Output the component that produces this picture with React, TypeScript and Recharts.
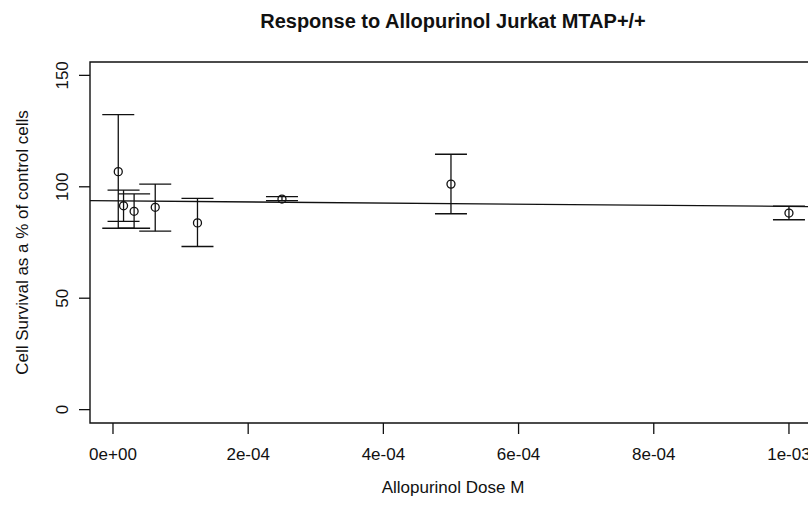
import React from "react";
import {
  ScatterChart,
  Scatter,
  XAxis,
  YAxis,
  ErrorBar,
  ReferenceLine,
  ReferenceArea,
} from "recharts";

// Allopurinol dose (M) and cell survival (% of control)
const doses = [7.8125e-6, 1.5625e-5, 3.125e-5, 6.25e-5, 1.25e-4, 2.5e-4, 5e-4, 1e-3];
const survival = [106.8, 91.5, 89.0, 90.8, 83.8, 94.5, 101.2, 88.2];
const lowerBound = [81.4, 84.5, 81.4, 80.1, 73.2, 93.8, 87.9, 85.2];
const upperBound = [132.4, 98.5, 96.8, 101.2, 94.8, 95.6, 114.6, 91.3];

const xTicks = [0, 2e-4, 4e-4, 6e-4, 8e-4, 1e-3];
const xTickLabels = ["0e+00", "2e-04", "4e-04", "6e-04", "8e-04", "1e-03"];
const yTicks = [0, 50, 100, 150];

// fitted line (abline)
const fitIntercept = 93.7;
const fitSlope = -2500;

const X_DOMAIN: [number, number] = [-3.4e-5, 1.04e-3];
const Y_DOMAIN: [number, number] = [-6, 156];

const FONT = '"Liberation Sans", Arial, Helvetica, sans-serif';
const INK = "#111";

const data = doses.map((d, i) => ({
  dose: d,
  value: survival[i],
  err: [survival[i] - lowerBound[i], upperBound[i] - survival[i]],
}));

const OpenCircle = (props: any) => {
  const { cx, cy } = props;
  return <circle cx={cx} cy={cy} r={4} fill="none" stroke={INK} strokeWidth={1.3} />;
};

const YTick = (props: any) => {
  const { x, y, payload } = props;
  const bx = x - 9;
  return (
    <text
      x={bx}
      y={y}
      transform={`rotate(-90, ${bx}, ${y})`}
      textAnchor="middle"
      fontSize={17}
      fontFamily={FONT}
      fill={INK}
    >
      {payload.value}
    </text>
  );
};

export default function App() {
  const fitLine = [
    { x: X_DOMAIN[0], y: fitIntercept + fitSlope * X_DOMAIN[0] },
    { x: X_DOMAIN[1], y: fitIntercept + fitSlope * X_DOMAIN[1] },
  ];

  return (
    <div
      style={{
        position: "absolute",
        left: 0,
        top: 0,
        width: 808,
        height: 506,
        overflow: "hidden",
        background: "#fff",
        fontFamily: FONT,
      }}
    >
      <div
        style={{
          position: "absolute",
          left: 0,
          width: 906,
          top: 11,
          textAlign: "center",
          fontSize: 20,
          lineHeight: "20px",
          fontWeight: "bold",
          color: INK,
        }}
      >
        Response to Allopurinol Jurkat MTAP+/+
      </div>
      <div
        style={{
          position: "absolute",
          left: 0,
          width: 906,
          top: 479,
          textAlign: "center",
          fontSize: 17,
          lineHeight: "17px",
          color: INK,
        }}
      >
        Allopurinol Dose M
      </div>
      <div
        style={{
          position: "absolute",
          left: 22 - 200,
          top: 242 - 8.5,
          width: 400,
          height: 17,
          textAlign: "center",
          fontSize: 17,
          lineHeight: "17px",
          color: INK,
          transform: "rotate(-90deg)",
          transformOrigin: "center",
        }}
      >
        Cell Survival as a % of control cells
      </div>
      <div style={{ position: "absolute", left: 0, top: 0 }}>
        <ScatterChart
          width={830}
          height={506}
          margin={{ top: 62, right: 14, bottom: 0, left: 0 }}
        >
          <XAxis
            type="number"
            dataKey="dose"
            domain={X_DOMAIN}
            allowDataOverflow
            ticks={xTicks}
            tickFormatter={(v: number) => xTickLabels[xTicks.indexOf(v)] ?? ""}
            tickSize={11}
            tickMargin={14}
            axisLine={false}
            tickLine={{ stroke: INK, strokeWidth: 1.3 }}
            tick={{ fontSize: 17, fill: INK, fontFamily: FONT }}
            height={83}
          />
          <YAxis
            type="number"
            dataKey="value"
            domain={Y_DOMAIN}
            allowDataOverflow
            ticks={yTicks}
            tickSize={11}
            axisLine={false}
            tickLine={{ stroke: INK, strokeWidth: 1.3 }}
            tick={<YTick />}
            width={90}
          />
          <ReferenceArea
            x1={X_DOMAIN[0]}
            x2={X_DOMAIN[1]}
            y1={Y_DOMAIN[0]}
            y2={Y_DOMAIN[1]}
            fill="none"
            stroke={INK}
            strokeWidth={1.4}
            ifOverflow="visible"
          />
          <ReferenceLine
            segment={fitLine}
            stroke={INK}
            strokeWidth={1.3}
            ifOverflow="visible"
          />
          <Scatter data={data} shape={<OpenCircle />} isAnimationActive={false}>
            <ErrorBar
              dataKey="err"
              direction="y"
              width={16}
              stroke={INK}
              strokeWidth={1.3}
              isAnimationActive={false}
            />
          </Scatter>
        </ScatterChart>
      </div>
    </div>
  );
}
